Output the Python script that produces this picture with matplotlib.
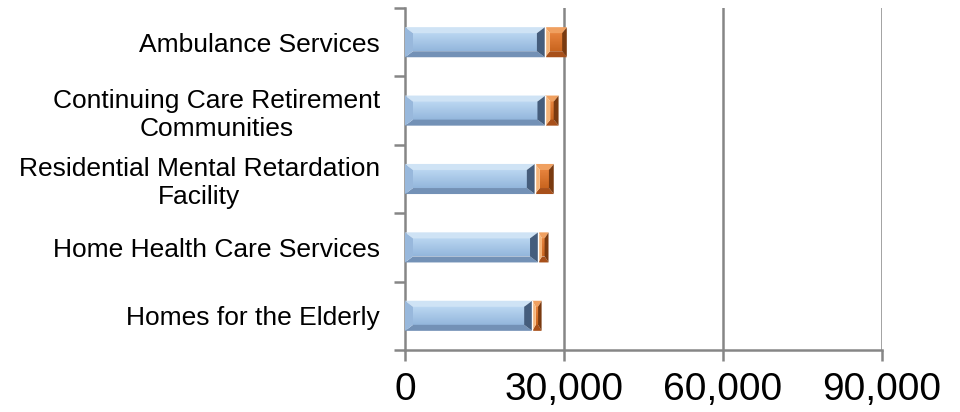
import numpy as np
import matplotlib
matplotlib.use("Agg")
import matplotlib.pyplot as plt
from matplotlib import font_manager
from matplotlib.patches import Polygon
from matplotlib.ticker import FuncFormatter

plt.rcParams['font.family'] = ['Liberation Sans', 'DejaVu Sans']

# Facility types, listed top to bottom
categories = [
    "Ambulance Services",
    "Continuing Care Retirement\nCommunities",
    "Residential Mental Retardation\nFacility",
    "Home Health Care Services",
    "Homes for the Elderly",
]
series_a = [26400, 26500, 24500, 25100, 24000]   # blue segment
series_b = [4200, 2500, 3600, 2000, 1800]        # orange segment
x_ticks = [0, 30000, 60000, 90000]

# Facet colours for the bevelled bars: top, bottom, left, right, centre
blue_facets = dict(top="#cfe3f5", bottom="#7391b6", left="#98b8dc",
                   right="#455d7c", center=("#bcd8f2", "#93b6dc"))
orange_facets = dict(top="#f0a060", bottom="#a8501a", left="#f5b57a",
                     right="#7a3a10", center=("#e8843e", "#c9651f"))

fig = plt.figure(figsize=(9.6, 4.12), dpi=100)
ax = fig.add_axes([405 / 960, 1 - 350 / 412, (882 - 405) / 960, (350 - 8) / 412])

ax.set_xlim(0, 90000)
ax.set_ylim(len(categories) - 0.5, -0.5)

bar_h = 0.44
px_per_unit = (882 - 405) / 90000.0


def bevel_bar(ax, left, width, yc, height, fc, bevel_px=7):
    x0, x1 = left, left + width
    y0, y1 = yc - height / 2, yc + height / 2   # y0 is the upper edge (inverted axis)
    dx = min(bevel_px / px_per_unit, 0.38 * width)
    dy = 0.2 * height
    # centre gradient
    grad = np.linspace(0, 1, 64).reshape(-1, 1)
    c_top = np.array(matplotlib.colors.to_rgb(fc["center"][0]))
    c_bot = np.array(matplotlib.colors.to_rgb(fc["center"][1]))
    img = c_top[None, None, :] * (1 - grad[..., None]) + c_bot[None, None, :] * grad[..., None]
    ax.imshow(img, extent=(x0 + dx, x1 - dx, y1 - dy, y0 + dy), aspect="auto",
              interpolation="bilinear", zorder=3)
    facets = [
        ([(x0, y0), (x1, y0), (x1 - dx, y0 + dy), (x0 + dx, y0 + dy)], fc["top"]),
        ([(x0, y1), (x1, y1), (x1 - dx, y1 - dy), (x0 + dx, y1 - dy)], fc["bottom"]),
        ([(x0, y0), (x0 + dx, y0 + dy), (x0 + dx, y1 - dy), (x0, y1)], fc["left"]),
        ([(x1, y0), (x1 - dx, y0 + dy), (x1 - dx, y1 - dy), (x1, y1)], fc["right"]),
    ]
    for pts, col in facets:
        ax.add_patch(Polygon(pts, closed=True, facecolor=col, edgecolor="none",
                             zorder=3))
    ax.plot([x1, x1], [y0, y1], color="white", lw=1.0, zorder=4)


for i, (a, b) in enumerate(zip(series_a, series_b)):
    bevel_bar(ax, 0, a, i, bar_h, blue_facets, bevel_px=8)
    bevel_bar(ax, a, b, i, bar_h, orange_facets, bevel_px=5)

# restore limits after imshow
ax.set_xlim(0, 90000)
ax.set_ylim(len(categories) - 0.5, -0.5)

grid_c = "#868686"
for s in ["top", "right"]:
    ax.spines[s].set_visible(False)
for s in ["left", "bottom"]:
    ax.spines[s].set_color(grid_c)
    ax.spines[s].set_linewidth(1.8)

# value axis: narrow face if one is installed, otherwise regular at a smaller size
names = {f.name for f in font_manager.fontManager.ttflist}
narrow = next((n for n in ["Liberation Sans Narrow", "Arial Narrow"] if n in names), None)

ax.set_xticks(x_ticks)
ax.xaxis.set_major_formatter(FuncFormatter(lambda v, p: f"{int(v):,}"))
ax.tick_params(axis="x", length=8, width=1.8, color=grid_c,
               pad=6 if narrow else 8, labelcolor="black")
for t in ax.get_xticklabels():
    if narrow:
        t.set_family([narrow, 'Liberation Sans'])
        t.set_fontsize(31.5)
    else:
        t.set_fontsize(28)
for xv in x_ticks[1:]:
    ax.axvline(xv, color=grid_c, lw=1.8, zorder=1)

ax.set_yticks(range(len(categories)))
ax.set_yticklabels(categories)
ax.set_yticks(np.arange(-0.5, len(categories), 1.0), minor=True)
ax.tick_params(axis="y", which="major", length=0, labelsize=19, pad=18,
               labelcolor="black")
ax.tick_params(axis="y", which="minor", length=8, width=1.8, color=grid_c)
for t in ax.get_yticklabels():
    t.set_multialignment("center")

fig.savefig("out.png", dpi=100)
